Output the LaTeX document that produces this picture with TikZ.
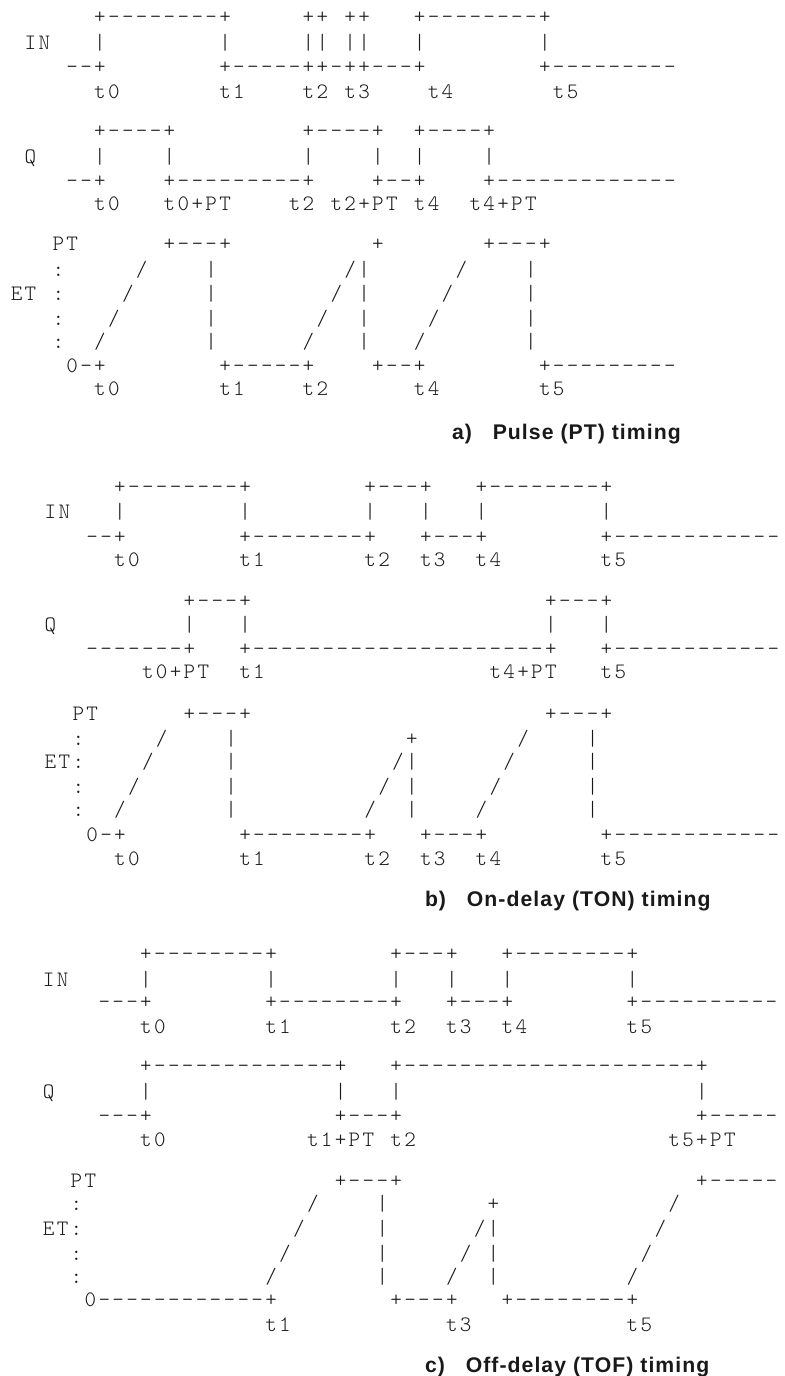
\documentclass[tikz,border=0pt]{standalone}
\usepackage{fontspec}
\newfontfamily\titlefont[LetterSpace=5]{Liberation Sans}
\newfontfamily\chartfont{lmmonolt10-regular.otf}
% fixed character cell of the monospaced timing charts
\newlength\cwd
\setlength\cwd{6.95pt}
% \asc{...}: set a string cell by cell; '.' stands for an empty cell
\newcommand\asc[1]{\ascloop#1\relax}
\newcommand\ascloop[1]{\ifx\relax#1\else\ascchar{#1}\expandafter\ascloop\fi}
\newcommand\ascchar[1]{\hbox to \cwd{\hss\if.#1\else#1\fi\hss}}
\begin{document}
\begin{tikzpicture}[x=0.5pt,y=-0.5pt,
  row/.style={anchor=base west,inner sep=0pt,outer sep=0pt,
    font=\chartfont\fontsize{11}{12}\selectfont,text=black!90},
  caption/.style={anchor=base west,inner sep=0pt,outer sep=0pt,
    font=\titlefont\bfseries\fontsize{10.6}{12}\selectfont,text=black!90}]
\fill[white] (0,0) rectangle (784,1376);
\clip (0,0) rectangle (784,1376);
\def\xa{9.65}
\def\xb{43.55}
\def\xc{41.75}
% ---- a) pulse timer ----
\node[row] (a1)  at (\xa,23.7)  {\asc{......+--------+.....++.++...+--------+}};
\node[row] (a2)  at (\xa,49.7)  {\asc{.IN...|........|.....||.||...|........|}};
\node[row] (a3)  at (\xa,73.5)  {\asc{....--+........+-----++-++---+........+---------}};
\node[row] (a4)  at (\xa,98.4)  {\asc{......t0.......t1....t2.t3....t4.......t5}};
\node[row] (a5)  at (\xa,137.2) {\asc{......+----+.........+----+..+----+}};
\node[row] (a6)  at (\xa,163.4) {\asc{.Q....|....|.........|....|..|....|}};
\node[row] (a7)  at (\xa,187)   {\asc{....--+....+---------+....+--+....+-------------}};
\node[row] (a8)  at (\xa,210.7) {\asc{......t0...t0+PT....t2.t2+PT.t4..t4+PT}};
\node[row] (a9)  at (\xa,250.5) {\asc{...PT......+---+..........+.......+---+}};
\node[row] (a10) at (\xa,276.7) {\asc{...:...../....|........./|....../....|}};
\node[row] (a11) at (\xa,300)   {\asc{ET.:..../.....|......../.|...../.....|}};
\node[row] (a12) at (\xa,325)   {\asc{...:.../......|......./..|..../......|}};
\node[row] (a13) at (\xa,348.4) {\asc{...:../.......|....../...|.../.......|}};
\node[row] (a14) at (\xa,372)   {\asc{....0-+........+-----+....+--+........+---------}};
\node[row] (a15) at (\xa,395)   {\asc{......t0.......t1....t2......t4.......t5}};
\node[caption] (ta) at (452,439) {a)~~~Pulse (PT) timing};
% ---- b) on-delay timer ----
\node[row] (b1)  at (\xb,493.7) {\asc{.....+--------+........+---+...+--------+}};
\node[row] (b2)  at (\xb,518.4) {\asc{IN...|........|........|...|...|........|}};
\node[row] (b3)  at (\xb,543.7) {\asc{...--+........+--------+...+---+........+------------}};
\node[row] (b4)  at (\xb,566.7) {\asc{.....t0.......t1.......t2..t3..t4.......t5}};
\node[row] (b5)  at (\xb,607)   {\asc{..........+---+.....................+---+}};
\node[row] (b6)  at (\xb,631.7) {\asc{Q.........|...|.....................|...|}};
\node[row] (b7)  at (\xb,655.3) {\asc{...-------+...+---------------------+...+------------}};
\node[row] (b8)  at (\xb,678.4) {\asc{.......t0+PT..t1................t4+PT...t5}};
\node[row] (b9)  at (\xb,720.5) {\asc{..PT......+---+.....................+---+}};
\node[row] (b10) at (\xb,745)   {\asc{..:...../....|............+......./....|}};
\node[row] (b11) at (\xb,768.4) {\asc{ET:..../.....|.........../|....../.....|}};
\node[row] (b12) at (\xb,793.4) {\asc{..:.../......|........../.|...../......|}};
\node[row] (b13) at (\xb,816.7) {\asc{..:../.......|........./..|..../.......|}};
\node[row] (b14) at (\xb,841)   {\asc{...0-+........+--------+...+---+........+------------}};
\node[row] (b15) at (\xb,865)   {\asc{.....t0.......t1.......t2..t3..t4.......t5}};
\node[caption] (tb) at (425,906) {b)~~~On-delay (TON) timing};
% ---- c) off-delay timer ----
\node[row] (c1)  at (\xc,960.3)  {\asc{.......+--------+........+---+...+--------+}};
\node[row] (c2)  at (\xc,986)    {\asc{IN.....|........|........|...|...|........|}};
\node[row] (c3)  at (\xc,1008.7) {\asc{....---+........+--------+...+---+........+----------}};
\node[row] (c4)  at (\xc,1033.4) {\asc{.......t0.......t1.......t2..t3..t4.......t5}};
\node[row] (c5)  at (\xc,1072)   {\asc{.......+-------------+...+---------------------+}};
\node[row] (c6)  at (\xc,1098.4) {\asc{Q......|.............|...|.....................|}};
\node[row] (c7)  at (\xc,1122)   {\asc{....---+.............+---+.....................+-----}};
\node[row] (c8)  at (\xc,1146.7) {\asc{.......t0..........t1+PT.t2..................t5+PT}};
\node[row] (c9)  at (\xc,1187)   {\asc{..PT.................+---+.....................+-----}};
\node[row] (c10) at (\xc,1210)   {\asc{..:................/....|.......+............/}};
\node[row] (c11) at (\xc,1235)   {\asc{ET:.............../.....|....../|.........../}};
\node[row] (c12) at (\xc,1260)   {\asc{..:............../......|...../.|........../}};
\node[row] (c13) at (\xc,1283.4) {\asc{..:............./.......|..../..|........./}};
\node[row] (c14) at (\xc,1306.5) {\asc{...0------------+........+---+...+--------+}};
\node[row] (c15) at (\xc,1331.7) {\asc{................t1...........t3...........t5}};
\node[caption] (tc) at (425,1372) {c)~~~Off-delay (TOF) timing};
\end{tikzpicture}
\end{document}
